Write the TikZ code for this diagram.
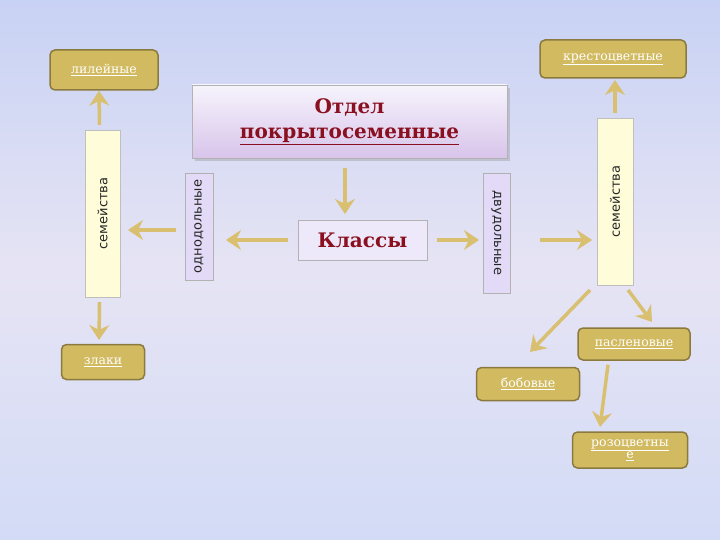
\documentclass[tikz,border=0pt]{standalone}
\usepackage{fontspec}
\setmainfont{DejaVu Serif}
\setsansfont{DejaVu Sans}
\usetikzlibrary{arrows.meta,shadows}
\definecolor{bg1}{HTML}{C8D2F4}
\definecolor{bg2}{HTML}{E6E4F4}
\definecolor{gold}{HTML}{D2BA60}
\definecolor{goldd}{HTML}{8A7A40}
\definecolor{arr}{HTML}{D8C070}
\definecolor{lav}{HTML}{E2DAF6}
\definecolor{dred}{HTML}{8A1020}
\tikzset{
 fam/.style={draw=goldd,line width=1.5pt,fill=gold,rounded corners=5pt,inner sep=0pt,
   font=\fontsize{12.5}{14}\selectfont,text=white,align=center},
 vbox/.style={draw=gray!60,fill=lav,inner sep=0pt},
 ybox/.style={draw=gray!50,fill=yellow!15,inner sep=0pt},
 arrw/.style={draw=arr,line width=3.5pt,-{Stealth[length=15pt,width=20pt,inset=5pt]}},
 lbl/.style={font=\sffamily\fontsize{13}{15}\selectfont,text=black!85},
}
\newcommand{\ftxt}[1]{\underline{#1}}
\begin{document}
\begin{tikzpicture}[x=1pt,y=-1pt]
\shade[top color=bg1,bottom color=bg1!80,middle color=bg2] (0,0) rectangle (720,540);
\useasboundingbox (0,0) rectangle (720,540);
% boxes
\node[fam,minimum width=108,minimum height=40] (lil) at (104,70) {\ftxt{лилейные}};
\node[fam,minimum width=146,minimum height=38] (kre) at (613,59) {\ftxt{крестоцветные}};
\node[fam,minimum width=83,minimum height=35] (zla) at (103,362) {\ftxt{злаки}};
\node[fam,minimum width=112,minimum height=32] (pas) at (634,344) {\ftxt{пасленовые}};
\node[fam,minimum width=103,minimum height=33] (bob) at (528,384) {\ftxt{бобовые}};
\node[fam,minimum width=115,minimum height=36] (roz) at (630,450) {\ftxt{розоцветны}\\[-2pt]\ftxt{е}};
\node[draw=gray!60,top color=white!70!lav,bottom color=lav!90!violet,minimum width=315,minimum height=73,
  font=\fontsize{20}{25}\selectfont\bfseries,text=dred,align=center,drop shadow={opacity=0.3}] (title) at (349.5,121.5)
  {Отдел\\\underline{покрытосеменные}};
\node[draw=gray!60,fill=lav!60,minimum width=129,minimum height=40,font=\fontsize{20}{24}\selectfont\bfseries,text=dred] (kl) at (362.5,240) {Классы};
\node[vbox,minimum width=28,minimum height=107] (odn) at (199,226.5) {};
\node[lbl,rotate=90] at (odn) {однодольные};
\node[vbox,minimum width=27,minimum height=120] (dvu) at (496.5,233) {};
\node[lbl,rotate=-90] at (dvu) {двудольные};
\node[ybox,minimum width=35,minimum height=167] (sl) at (102.5,213.5) {};
\node[lbl,rotate=90] at (sl) {семейства};
\node[ybox,minimum width=36,minimum height=167] (sr) at (615,201.5) {};
\node[lbl,rotate=90] at (sr) {семейства};
% arrows
\draw[arrw] (345,168) -- (345,214);
\draw[arrw] (kl.west) ++(-10,0) -- (226,240);
\draw[arrw] (kl.east) ++(10,0) -- (479,240);
\draw[arrw] (540,240) -- (592,240);
\draw[arrw] (176,230) -- (128,230);
\draw[arrw] (sl.north) ++(-3,-5) -- (lil.south -| 99,0);
\draw[arrw] (sl.south) ++(-3,5) -- (99,340);
\draw[arrw] (sr.north) ++(0,-5) -- (615,80);
\draw[arrw] (590,290) -- (530,352);
\draw[arrw] (628,290) -- (652,322);
\draw[arrw] (pas.south) ++(-26,4) -- (600,427);
\end{tikzpicture}
\end{document}
